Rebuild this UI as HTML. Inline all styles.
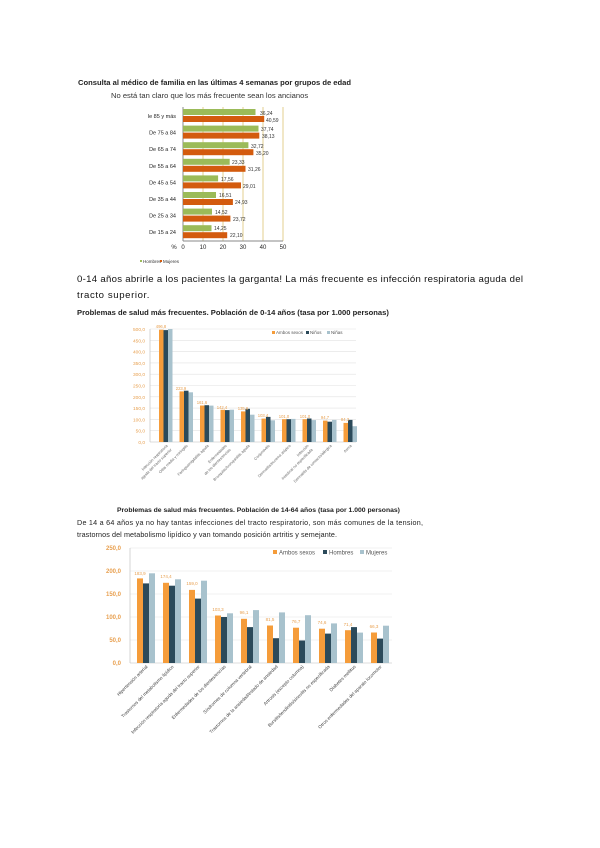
<!DOCTYPE html>
<html><head><meta charset="utf-8"><style>
html,body{margin:0;padding:0;background:#fff;width:600px;height:848px;overflow:hidden}
svg{display:block;font-family:"Liberation Sans",sans-serif}
</style></head><body>
<svg width="600" height="848" viewBox="0 0 600 848" xmlns="http://www.w3.org/2000/svg">
<!-- Chart 1 -->
<text x="78" y="85" font-size="7.6" font-weight="bold" fill="#222">Consulta al médico de familia en las últimas 4 semanas por grupos de edad</text>
<text x="111" y="98" font-size="7.6" fill="#333">No está tan claro que los más frecuente sean los ancianos</text>
<g stroke="#e3cf8f" stroke-width="1">
<line x1="203" y1="107" x2="203" y2="241"/><line x1="223" y1="107" x2="223" y2="241"/>
<line x1="243" y1="107" x2="243" y2="241"/><line x1="263" y1="107" x2="263" y2="241"/>
<line x1="283" y1="107" x2="283" y2="241"/>
</g>
<line x1="183" y1="107" x2="183" y2="241" stroke="#888"/>
<line x1="183" y1="241" x2="283" y2="241" stroke="#888"/>
<g fill="#9bbb59">
<rect x="183" y="109" width="72.5" height="6"/><rect x="183" y="125.6" width="75.5" height="6"/>
<rect x="183" y="142.2" width="65.4" height="6"/><rect x="183" y="158.8" width="46.7" height="6"/>
<rect x="183" y="175.4" width="35.1" height="6"/><rect x="183" y="192" width="33" height="6"/>
<rect x="183" y="208.6" width="29" height="6"/><rect x="183" y="225.2" width="28.5" height="6"/>
</g>
<g fill="#d35b0e">
<rect x="183" y="116" width="81.2" height="6"/><rect x="183" y="132.6" width="76.3" height="6"/>
<rect x="183" y="149.2" width="70.4" height="6"/><rect x="183" y="165.8" width="62.5" height="6"/>
<rect x="183" y="182.4" width="58" height="6"/><rect x="183" y="199" width="49.9" height="6"/>
<rect x="183" y="215.6" width="47.4" height="6"/><rect x="183" y="232.2" width="44.2" height="6"/>
</g>
<g font-size="5" fill="#333">
<text x="260" y="115">36,24</text><text x="266" y="122">40,59</text>
<text x="261" y="131">37,74</text><text x="262" y="138">38,13</text>
<text x="251" y="148">32,72</text><text x="256" y="155">35,20</text>
<text x="232" y="164">23,33</text><text x="248" y="171">31,26</text>
<text x="221" y="181">17,56</text><text x="243" y="188">29,01</text>
<text x="219" y="197">16,51</text><text x="235" y="204">24,93</text>
<text x="215" y="214">14,52</text><text x="233" y="221">23,72</text>
<text x="214" y="230">14,25</text><text x="230" y="237">22,10</text>
</g>
<g font-size="5.5" fill="#222" text-anchor="end">
<text x="176" y="118">le 85 y más</text><text x="176" y="134.6">De 75 a 84</text>
<text x="176" y="151.2">De 65 a 74</text><text x="176" y="167.8">De 55 a 64</text>
<text x="176" y="184.4">De 45 a 54</text><text x="176" y="201">De 35 a 44</text>
<text x="176" y="217.6">De 25 a 34</text><text x="176" y="234.2">De 15 a 24</text>
</g>
<g font-size="6" fill="#222" text-anchor="middle">
<text x="174" y="249">%</text><text x="183" y="249">0</text><text x="203" y="249">10</text>
<text x="223" y="249">20</text><text x="243" y="249">30</text><text x="263" y="249">40</text><text x="283" y="249">50</text>
</g>
<rect x="140" y="260" width="2" height="2" fill="#9bbb59"/><text x="143" y="263" font-size="4.5" fill="#333">Hombres</text>
<rect x="160" y="260" width="2" height="2" fill="#d35b0e"/><text x="163" y="263" font-size="4.5" fill="#333">Mujeres</text>

<!-- Paragraph -->
<text x="77" y="282" font-size="9.6" fill="#111" textLength="446" lengthAdjust="spacing">0-14 años abrirle a los pacientes la garganta! La más frecuente es infección respiratoria aguda del</text>
<text x="77" y="298" font-size="9.6" fill="#111" letter-spacing="0.6">tracto superior.</text>

<!-- Chart 2 -->
<text x="77" y="315" font-size="7.6" font-weight="bold" fill="#222">Problemas de salud más frecuentes. Población de 0-14 años (tasa por 1.000 personas)</text>
<g stroke="#e2e2e2" stroke-width="0.6">
<line x1="150" y1="430.7" x2="356" y2="430.7"/><line x1="150" y1="419.4" x2="356" y2="419.4"/>
<line x1="150" y1="408.1" x2="356" y2="408.1"/><line x1="150" y1="396.8" x2="356" y2="396.8"/>
<line x1="150" y1="385.5" x2="356" y2="385.5"/><line x1="150" y1="374.2" x2="356" y2="374.2"/>
<line x1="150" y1="362.9" x2="356" y2="362.9"/><line x1="150" y1="351.6" x2="356" y2="351.6"/>
<line x1="150" y1="340.3" x2="356" y2="340.3"/><line x1="150" y1="329" x2="356" y2="329"/>
</g>
<line x1="150" y1="329" x2="150" y2="442" stroke="#bbb" stroke-width="0.6"/>
<line x1="150" y1="442" x2="356" y2="442" stroke="#bbb" stroke-width="0.6"/>
<g font-size="4.8" fill="#e8a050" text-anchor="end">
<text x="145" y="444">0,0</text><text x="145" y="432.7">50,0</text><text x="145" y="421.4">100,0</text>
<text x="145" y="410.1">150,0</text><text x="145" y="398.8">200,0</text><text x="145" y="387.5">250,0</text>
<text x="145" y="376.2">300,0</text><text x="145" y="364.9">350,0</text><text x="145" y="353.6">400,0</text>
<text x="145" y="342.3">450,0</text><text x="145" y="331">500,0</text>
</g>
<g transform="translate(0,442) scale(1,-1)">
<g fill="#f59c3a">
<rect x="159" y="0" width="4.5" height="112.3"/><rect x="179.5" y="0" width="4.5" height="50.6"/>
<rect x="200" y="0" width="4.5" height="36.5"/><rect x="220.5" y="0" width="4.5" height="32.2"/>
<rect x="241" y="0" width="4.5" height="30.6"/><rect x="261.5" y="0" width="4.5" height="23.4"/>
<rect x="282" y="0" width="4.5" height="22.8"/><rect x="302.5" y="0" width="4.5" height="22.8"/>
<rect x="323" y="0" width="4.5" height="21.4"/><rect x="343.5" y="0" width="4.5" height="19.1"/>
</g>
<g fill="#2b4a5a">
<rect x="163.5" y="0" width="4.5" height="111.9"/><rect x="184" y="0" width="4.5" height="51.3"/>
<rect x="204.5" y="0" width="4.5" height="36.8"/><rect x="225" y="0" width="4.5" height="31.9"/>
<rect x="245.5" y="0" width="4.5" height="33.2"/><rect x="266" y="0" width="4.5" height="25.1"/>
<rect x="286.5" y="0" width="4.5" height="22.8"/><rect x="307" y="0" width="4.5" height="23.5"/>
<rect x="327.5" y="0" width="4.5" height="20.3"/><rect x="348" y="0" width="4.5" height="22.1"/>
</g>
<g fill="#a8c2cd">
<rect x="168" y="0" width="4.5" height="113"/><rect x="188.5" y="0" width="4.5" height="49.7"/>
<rect x="209" y="0" width="4.5" height="36.4"/><rect x="229.5" y="0" width="4.5" height="32.3"/>
<rect x="250" y="0" width="4.5" height="27.3"/><rect x="270.5" y="0" width="4.5" height="21.7"/>
<rect x="291" y="0" width="4.5" height="23.1"/><rect x="311.5" y="0" width="4.5" height="21.9"/>
<rect x="332" y="0" width="4.5" height="22.1"/><rect x="352.5" y="0" width="4.5" height="15.8"/>
</g>
</g>
<g font-size="4.2" fill="#e8a050" text-anchor="middle">
<text x="161" y="328">496,8</text><text x="181" y="390">223,9</text><text x="202" y="404">161,6</text>
<text x="222" y="409">142,4</text><text x="243" y="410">135,6</text><text x="263" y="417">103,4</text>
<text x="284" y="418">101,0</text><text x="305" y="418">101,0</text><text x="325" y="419">94,7</text><text x="345" y="421">84,3</text>
</g>
<rect x="272" y="331" width="3" height="3" fill="#f59c3a"/><text x="276" y="334" font-size="4.5" fill="#555">Ambos sexos</text>
<rect x="306" y="331" width="3" height="3" fill="#2b4a5a"/><text x="310" y="334" font-size="4.5" fill="#555">Niños</text>
<rect x="327" y="331" width="3" height="3" fill="#a8c2cd"/><text x="331" y="334" font-size="4.5" fill="#555">Niñas</text>
<g font-size="3.8" fill="#666" text-anchor="end">
<text transform="translate(168,446) rotate(-45)">Infección respiratoria</text>
<text transform="translate(172,450) rotate(-45)">aguda del tracto superior</text>
<text transform="translate(188,446) rotate(-45)">Otitis media y miringitis</text>
<text transform="translate(209,446) rotate(-45)">Faringoamigdalitis aguda</text>
<text transform="translate(227,446) rotate(-45)">Enfermedades</text>
<text transform="translate(231,450) rotate(-45)">de los dientes/encías</text>
<text transform="translate(250,446) rotate(-45)">Bronquitis/bronquiolitis aguda</text>
<text transform="translate(270,446) rotate(-45)">Conjuntivitis</text>
<text transform="translate(291,446) rotate(-45)">Dermatitis/eccema atópico</text>
<text transform="translate(309,446) rotate(-45)">Infección</text>
<text transform="translate(313,450) rotate(-45)">intestinal no especificada</text>
<text transform="translate(332,446) rotate(-45)">Dermatitis de contacto/alérgica</text>
<text transform="translate(352,446) rotate(-45)">Asma</text>
</g>

<!-- Chart 3 -->
<text x="117" y="512" font-size="6.8" font-weight="bold" fill="#222">Problemas de salud más frecuentes. Población de 14-64 años (tasa por 1.000 personas)</text>
<text x="77" y="525" font-size="7.2" fill="#222" textLength="346" lengthAdjust="spacing">De 14 a 64 años ya no hay tantas infecciones del tracto respiratorio, son más comunes de la tension,</text>
<text x="77" y="537" font-size="7.2" fill="#222" textLength="260" lengthAdjust="spacing">trastornos del metabolismo lipídico y van tomando posición artritis y semejante.</text>
<g stroke="#e2e2e2" stroke-width="0.6">
<line x1="130" y1="640" x2="392" y2="640"/><line x1="130" y1="617" x2="392" y2="617"/>
<line x1="130" y1="594" x2="392" y2="594"/><line x1="130" y1="571" x2="392" y2="571"/>
<line x1="130" y1="548" x2="392" y2="548"/>
</g>
<line x1="130" y1="548" x2="130" y2="663" stroke="#bbb" stroke-width="0.6"/>
<line x1="130" y1="663" x2="392" y2="663" stroke="#bbb" stroke-width="0.6"/>
<g font-size="6" font-weight="bold" fill="#e8a050" text-anchor="end">
<text x="121" y="665">0,0</text><text x="121" y="642">50,0</text><text x="121" y="619">100,0</text>
<text x="121" y="596">150,0</text><text x="121" y="573">200,0</text><text x="121" y="550">250,0</text>
</g>
<g transform="translate(0,663) scale(1,-1)">
<g fill="#f59c3a">
<rect x="137" y="0" width="6" height="84.6"/><rect x="163" y="0" width="6" height="80.2"/>
<rect x="189" y="0" width="6" height="73.1"/><rect x="215" y="0" width="6" height="47.5"/>
<rect x="241" y="0" width="6" height="44.2"/><rect x="267" y="0" width="6" height="37.5"/>
<rect x="293" y="0" width="6" height="35.3"/><rect x="319" y="0" width="6" height="34.3"/>
<rect x="345" y="0" width="6" height="32.8"/><rect x="371" y="0" width="6" height="30.5"/>
</g>
<g fill="#2b4a5a">
<rect x="143" y="0" width="6" height="79.6"/><rect x="169" y="0" width="6" height="77.3"/>
<rect x="195" y="0" width="6" height="64.4"/><rect x="221" y="0" width="6" height="46"/>
<rect x="247" y="0" width="6" height="35.9"/><rect x="273" y="0" width="6" height="24.8"/>
<rect x="299" y="0" width="6" height="22.5"/><rect x="325" y="0" width="6" height="29.4"/>
<rect x="351" y="0" width="6" height="35.9"/><rect x="377" y="0" width="6" height="24.4"/>
</g>
<g fill="#a8c2cd">
<rect x="149" y="0" width="6" height="89.7"/><rect x="175" y="0" width="6" height="83.7"/>
<rect x="201" y="0" width="6" height="82.3"/><rect x="227" y="0" width="6" height="49.7"/>
<rect x="253" y="0" width="6" height="52.9"/><rect x="279" y="0" width="6" height="50.6"/>
<rect x="305" y="0" width="6" height="47.8"/><rect x="331" y="0" width="6" height="39.6"/>
<rect x="357" y="0" width="6" height="30.4"/><rect x="383" y="0" width="6" height="37.3"/>
</g>
</g>
<g font-size="4.5" fill="#e8a050" text-anchor="middle">
<text x="140" y="575">183,9</text><text x="166" y="578">174,4</text><text x="192" y="585">159,0</text>
<text x="218" y="611">103,3</text><text x="244" y="614">96,1</text><text x="270" y="621">81,5</text>
<text x="296" y="623">76,7</text><text x="322" y="624">74,6</text><text x="348" y="626">71,4</text><text x="374" y="628">66,3</text>
</g>
<rect x="273" y="550" width="4" height="4" fill="#f59c3a"/><text x="279" y="554.5" font-size="6" fill="#555">Ambos sexos</text>
<rect x="323" y="550" width="4" height="4" fill="#2b4a5a"/><text x="329" y="554.5" font-size="6" fill="#555">Hombres</text>
<rect x="360" y="550" width="4" height="4" fill="#a8c2cd"/><text x="366" y="554.5" font-size="6" fill="#555">Mujeres</text>
<g font-size="4.6" fill="#444" text-anchor="end">
<text transform="translate(148,667) rotate(-45)">Hipertensión arterial</text>
<text transform="translate(174,667) rotate(-45)">Trastornos del metabolismo lipídico</text>
<text transform="translate(200,667) rotate(-45)">Infección respiratoria aguda del tracto superior</text>
<text transform="translate(226,667) rotate(-45)">Enfermedades de los dientes/encías</text>
<text transform="translate(252,667) rotate(-45)">Síndromes de columna vertebral</text>
<text transform="translate(278,667) rotate(-45)">Trastornos de la ansiedad/estado de ansiedad</text>
<text transform="translate(304,667) rotate(-45)">Artrosis (excepto columna)</text>
<text transform="translate(330,667) rotate(-45)">Bursitis/tendinitis/sinovitis no especificada</text>
<text transform="translate(356,667) rotate(-45)">Diabetes mellitus</text>
<text transform="translate(382,667) rotate(-45)">Otros enfermedades del aparato locomotor</text>
</g>
</svg>
</body></html>
